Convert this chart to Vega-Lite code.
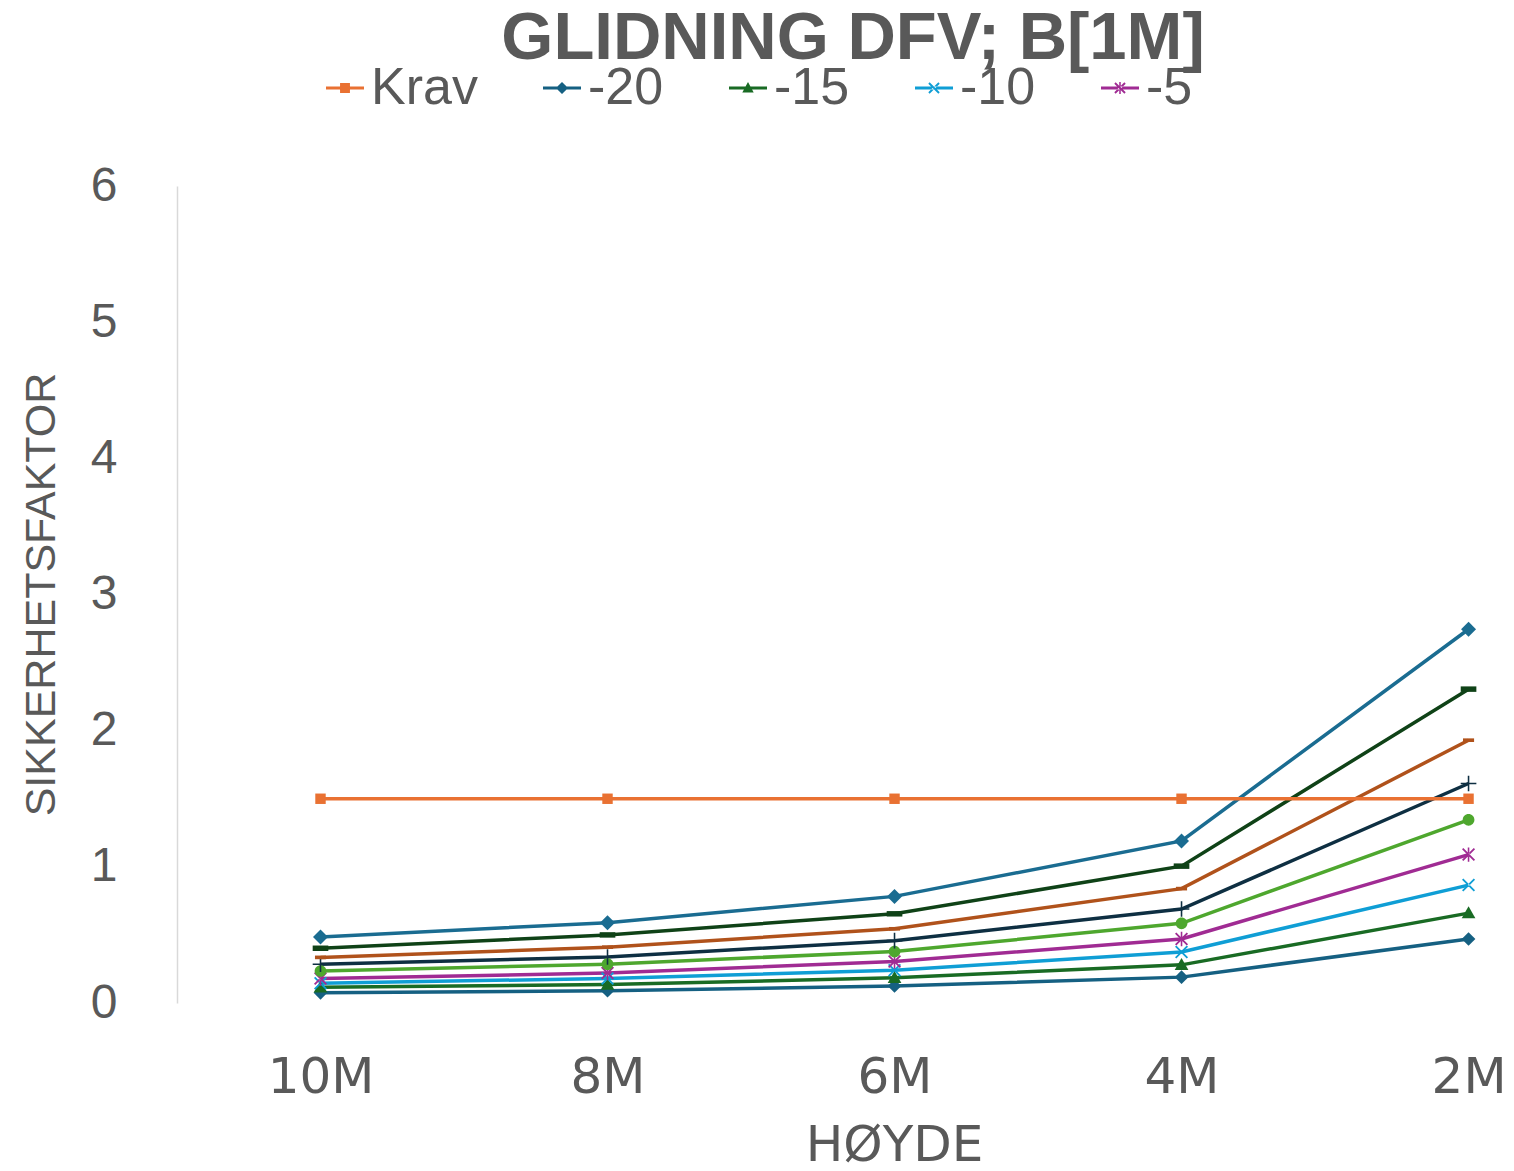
{
  "$schema": "https://vega.github.io/schema/vega-lite/v6.json",
  "width": 1330,
  "height": 817,
  "autosize": {"type": "none"},
  "padding": {"left": 177, "top": 186, "right": 7, "bottom": 168},
  "background": "white",
  "config": {"view": {"stroke": null}},
  "title": {
    "text": "GLIDNING DFV; B[1M]",
    "font": "Liberation Sans",
    "fontSize": 67,
    "fontWeight": "bold",
    "color": "#595959",
    "anchor": "middle",
    "baseline": "alphabetic",
    "offset": -64,
    "dx": 11
  },
  "data": {
    "values": [
      {"serie": "-20", "h": 10, "v": 0.075}, {"serie": "-20", "h": 8, "v": 0.09}, {"serie": "-20", "h": 6, "v": 0.125}, {"serie": "-20", "h": 4, "v": 0.19}, {"serie": "-20", "h": 2, "v": 0.47},
      {"serie": "-15", "h": 10, "v": 0.115}, {"serie": "-15", "h": 8, "v": 0.135}, {"serie": "-15", "h": 6, "v": 0.185}, {"serie": "-15", "h": 4, "v": 0.28}, {"serie": "-15", "h": 2, "v": 0.66},
      {"serie": "-10", "h": 10, "v": 0.145}, {"serie": "-10", "h": 8, "v": 0.18}, {"serie": "-10", "h": 6, "v": 0.24}, {"serie": "-10", "h": 4, "v": 0.375}, {"serie": "-10", "h": 2, "v": 0.866},
      {"serie": "-5", "h": 10, "v": 0.18}, {"serie": "-5", "h": 8, "v": 0.22}, {"serie": "-5", "h": 6, "v": 0.305}, {"serie": "-5", "h": 4, "v": 0.47}, {"serie": "-5", "h": 2, "v": 1.09},
      {"serie": "0", "h": 10, "v": 0.235}, {"serie": "0", "h": 8, "v": 0.285}, {"serie": "0", "h": 6, "v": 0.378}, {"serie": "0", "h": 4, "v": 0.585}, {"serie": "0", "h": 2, "v": 1.345},
      {"serie": "5", "h": 10, "v": 0.285}, {"serie": "5", "h": 8, "v": 0.338}, {"serie": "5", "h": 6, "v": 0.458}, {"serie": "5", "h": 4, "v": 0.69}, {"serie": "5", "h": 2, "v": 1.612},
      {"serie": "10", "h": 10, "v": 0.335}, {"serie": "10", "h": 8, "v": 0.41}, {"serie": "10", "h": 6, "v": 0.545}, {"serie": "10", "h": 4, "v": 0.84}, {"serie": "10", "h": 2, "v": 1.93},
      {"serie": "15", "h": 10, "v": 0.402}, {"serie": "15", "h": 8, "v": 0.5}, {"serie": "15", "h": 6, "v": 0.655}, {"serie": "15", "h": 4, "v": 1.005}, {"serie": "15", "h": 2, "v": 2.305},
      {"serie": "20", "h": 10, "v": 0.485}, {"serie": "20", "h": 8, "v": 0.59}, {"serie": "20", "h": 6, "v": 0.783}, {"serie": "20", "h": 4, "v": 1.19}, {"serie": "20", "h": 2, "v": 2.745},
      {"serie": "Krav", "h": 10, "v": 1.5}, {"serie": "Krav", "h": 8, "v": 1.5}, {"serie": "Krav", "h": 6, "v": 1.5}, {"serie": "Krav", "h": 4, "v": 1.5}, {"serie": "Krav", "h": 2, "v": 1.5}
    ]
  },
  "encoding": {
    "x": {
      "field": "h",
      "type": "quantitative",
      "scale": {"domain": [1.732, 11], "reverse": true, "nice": false, "zero": false},
      "axis": {
        "title": "HØYDE",
        "values": [10, 8, 6, 4, 2],
        "labelExpr": "datum.value + 'M'",
        "domain": false,
        "ticks": false,
        "grid": false,
        "labelFont": "DejaVu Sans",
        "labelFontSize": 50,
        "labelColor": "#595959",
        "labelBaseline": "alphabetic",
        "labelPadding": 89,
        "labelFlush": false,
        "labelOverlap": false,
        "titleFont": "DejaVu Sans",
        "titleFontSize": 50,
        "titleFontWeight": "normal",
        "titleColor": "#595959",
        "titleBaseline": "alphabetic",
        "titleAlign": "center",
        "titleAnchor": "start",
        "titleX": 717,
        "titleY": 157
      }
    },
    "y": {
      "field": "v",
      "type": "quantitative",
      "scale": {"domain": [0, 6], "nice": false},
      "axis": {
        "title": "SIKKERHETSFAKTOR",
        "values": [0, 1, 2, 3, 4, 5, 6],
        "grid": false,
        "ticks": false,
        "domainColor": "#D9D9D9",
        "domainWidth": 1.5,
        "labelFont": "Liberation Sans",
        "labelFontSize": 48,
        "labelColor": "#595959",
        "labelPadding": 60,
        "labelBaseline": "middle",
        "labelOverlap": false,
        "titleFont": "Liberation Sans",
        "titleFontSize": 43,
        "titleFontWeight": "normal",
        "titleColor": "#595959",
        "titleAngle": -90,
        "titleAlign": "center",
        "titleBaseline": "middle",
        "titleAnchor": "start",
        "titleX": -136,
        "titleY": 408
      }
    }
  },
  "layer": [
    {
      "mark": {"type": "line", "strokeWidth": 3.5},
      "encoding": {
        "color": {
          "field": "serie",
          "type": "nominal",
          "scale": {
            "domain": ["Krav", "-20", "-15", "-10", "-5", "0", "5", "10", "15", "20"],
            "range": ["#E97132", "#156082", "#196B24", "#0F9ED5", "#A02B93", "#4EA72E", "#0E2F42", "#B0521B", "#0F4217", "#1A6C91"]
          },
          "legend": {
            "title": null,
            "values": ["Krav", "-20", "-15", "-10", "-5"],
            "orient": "none",
            "direction": "horizontal",
            "legendX": 142,
            "legendY": -124,
            "padding": 0,
            "symbolSize": 1444,
            "labelFont": "Liberation Sans",
            "labelFontSize": 52,
            "labelColor": "#595959",
            "labelOffset": 0,
            "columnPadding": 58,
            "labelLimit": 300,
            "encode": {
              "symbols": {
                "update": {
                  "shape": {"signal": "datum.value === 'Krav' ? 'M-1,-0.08H1V0.08H-1Z M-0.26,-0.26H0.26V0.26H-0.26Z' : datum.value === '-20' ? 'M-1,-0.08H1V0.08H-1Z M0,-0.32L0.32,0L0,0.32L-0.32,0Z' : datum.value === '-15' ? 'M-1,-0.08H1V0.08H-1Z M0,-0.32L0.3,0.24H-0.3Z' : datum.value === '-10' ? 'M-1,-0.08H1V0.08H-1Z M-0.3,-0.23L-0.23,-0.3L0.3,0.23L0.23,0.3Z M-0.3,0.23L-0.23,0.3L0.3,-0.23L0.23,-0.3Z' : 'M-1,-0.08H1V0.08H-1Z M-0.3,-0.23L-0.23,-0.3L0.3,0.23L0.23,0.3Z M-0.3,0.23L-0.23,0.3L0.3,-0.23L0.23,-0.3Z M-0.04,-0.32H0.04V0.32H-0.04Z'"},
                  "size": {"value": 1444},
                  "fill": {"scale": "color", "field": "value"},
                  "strokeWidth": {"value": 0},
                  "opacity": {"value": 1}
                }
              }
            }
          }
        }
      }
    },
    {
      "encoding": {
        "fill": {
          "field": "serie",
          "type": "nominal",
          "scale": {
            "domain": ["Krav", "-20", "-15", "-10", "-5", "0", "5", "10", "15", "20"],
            "range": ["#E97132", "#156082", "#196B24", "#0F9ED5", "#A02B93", "#4EA72E", "#0E2F42", "#B0521B", "#0F4217", "#1A6C91"]
          },
          "legend": null
        }
      },
      "layer": [
        {"transform": [{"filter": "datum.serie === 'Krav'"}], "mark": {"type": "point", "filled": true, "opacity": 1, "strokeWidth": 0, "size": 170, "shape": "M-0.8,-0.8H0.8V0.8H-0.8Z"}},
        {"transform": [{"filter": "datum.serie === '-20'"}], "mark": {"type": "point", "filled": true, "opacity": 1, "strokeWidth": 0, "size": 170, "shape": "M0,-1.05L1.05,0L0,1.05L-1.05,0Z"}},
        {"transform": [{"filter": "datum.serie === '-15'"}], "mark": {"type": "point", "filled": true, "opacity": 1, "strokeWidth": 0, "size": 170, "shape": "M0,-1.05L1.05,0.8H-1.05Z"}},
        {"transform": [{"filter": "datum.serie === '-10'"}], "mark": {"type": "point", "filled": true, "opacity": 1, "strokeWidth": 0, "size": 170, "shape": "M-1,-0.8L-0.8,-1L1,0.8L0.8,1Z M-1,0.8L-0.8,1L1,-0.8L0.8,-1Z"}},
        {"transform": [{"filter": "datum.serie === '-5'"}], "mark": {"type": "point", "filled": true, "opacity": 1, "strokeWidth": 0, "size": 170, "shape": "M-1,-0.8L-0.8,-1L1,0.8L0.8,1Z M-1,0.8L-0.8,1L1,-0.8L0.8,-1Z M-0.12,-1.1H0.12V1.1H-0.12Z"}},
        {"transform": [{"filter": "datum.serie === '0'"}], "mark": {"type": "point", "filled": true, "opacity": 1, "strokeWidth": 0, "size": 170, "shape": "M0.9,0A0.9,0.9 0 1,1 -0.9,0A0.9,0.9 0 1,1 0.9,0Z"}},
        {"transform": [{"filter": "datum.serie === '5'"}], "mark": {"type": "point", "filled": true, "opacity": 1, "strokeWidth": 0, "size": 170, "shape": "M-0.12,-1.2H0.12V-0.12H1.2V0.12H0.12V1.2H-0.12V0.12H-1.2V-0.12H-0.12Z"}},
        {"transform": [{"filter": "datum.serie === '10'"}], "mark": {"type": "point", "filled": true, "opacity": 1, "strokeWidth": 0, "size": 170, "shape": "M-0.85,-0.28H0.85V0.28H-0.85Z"}},
        {"transform": [{"filter": "datum.serie === '15'"}], "mark": {"type": "point", "filled": true, "opacity": 1, "strokeWidth": 0, "size": 170, "shape": "M-1.2,-0.42H1.2V0.42H-1.2Z"}},
        {"transform": [{"filter": "datum.serie === '20'"}], "mark": {"type": "point", "filled": true, "opacity": 1, "strokeWidth": 0, "size": 170, "shape": "M0,-1.15L1.15,0L0,1.15L-1.15,0Z"}}
      ]
    }
  ]
}
